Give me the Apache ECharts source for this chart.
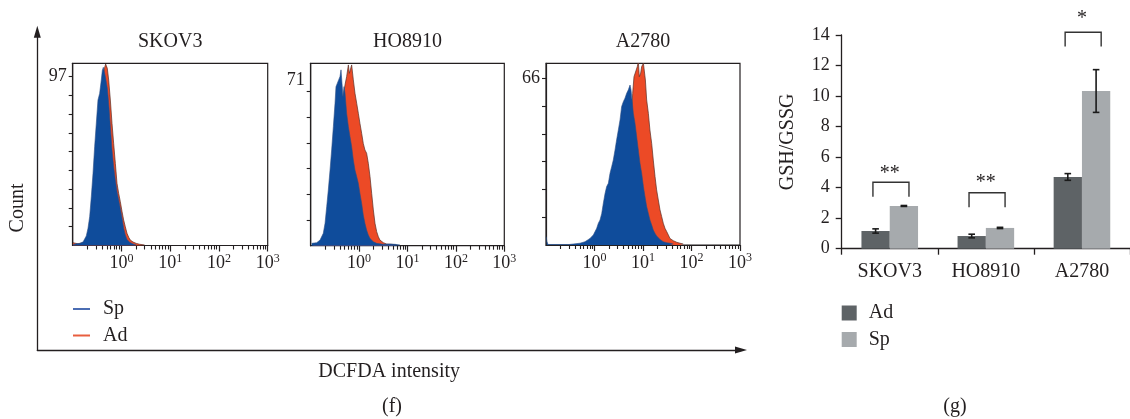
<!DOCTYPE html>
<html><head><meta charset="utf-8">
<script src="https://cdn.jsdelivr.net/npm/echarts@6/dist/echarts.min.js"></script>
<style>html,body{margin:0;padding:0;background:#fff}#c{width:1130px;height:419px}</style>
</head><body><div id="c"></div>
<script>
// ---------------- data ----------------
const cellLines = ['SKOV3', 'HO8910', 'A2780'];
const decadeTicks = [1, 10, 100, 1000];
const histYLabel = [[97], [71], [66]];
const histYTicks = [
  [10.8, 21.6, 32.3, 43.1, 53.9, 64.7, 75.4, 86.2, 97],
  [11, 22, 33, 44, 55, 66],
  [11, 22, 33, 44, 55, 66]
];
const histYMax = [104.7, 78.1, 71.9];

// [DCFDA intensity, count]
const skov3Sp = [[0.101,0.5],[0.119,1.0],[0.139,1.2],[0.163,2.0],[0.190,5.5],[0.206,9.9],[0.223,16.6],[0.241,28.1],[0.261,41.5],[0.282,56.8],[0.305,70.2],[0.330,83.6],[0.357,87.4],[0.386,95.1],[0.405,100.5],[0.425,102.4],[0.453,98.9],[0.474,96.1],[0.513,90.3],[0.547,81.7],[0.592,68.3],[0.640,54.9],[0.692,45.3],[0.750,37.6],[0.811,30.9],[0.877,26.1],[0.948,21.3],[1.03,15.6],[1.11,9.9],[1.20,6.0],[1.30,3.5],[1.47,1.8],[1.73,0.9],[2.02,0.3]];
const skov3Ad = [[0.101,1.6],[0.110,0.8],[0.128,1.0],[0.163,1.6],[0.200,4.1],[0.219,9.9],[0.237,16.6],[0.257,28.1],[0.278,41.5],[0.301,56.8],[0.325,70.2],[0.352,83.6],[0.380,88.4],[0.412,96.1],[0.438,100.9],[0.474,104.3],[0.498,103.7],[0.513,101.8],[0.547,95.1],[0.592,83.6],[0.640,70.2],[0.692,58.7],[0.750,47.2],[0.811,35.7],[0.877,30.0],[0.948,25.2],[1.03,19.4],[1.11,14.6],[1.20,10.8],[1.30,7.0],[1.41,4.7],[1.52,3.1],[1.73,2.0],[2.02,1.2],[2.37,0.7],[2.99,0.3]];
const ho8910Sp = [[0.105,1.0],[0.133,1.3],[0.156,2.4],[0.182,5.3],[0.198,9.6],[0.214,16.7],[0.231,23.8],[0.251,32.4],[0.271,41.0],[0.294,51.0],[0.318,61.0],[0.333,68.1],[0.355,68.9],[0.378,71.0],[0.403,72.4],[0.423,75.3],[0.443,69.6],[0.465,63.8],[0.488,68.1],[0.512,65.3],[0.553,56.7],[0.600,51.0],[0.649,46.7],[0.702,42.4],[0.760,36.7],[0.822,32.4],[0.891,29.6],[0.964,26.7],[1.04,22.4],[1.13,18.1],[1.22,13.1],[1.32,9.6],[1.43,6.7],[1.55,4.6],[1.68,3.1],[1.97,1.7],[2.31,1.0],[3.17,0.6],[4.35,0.7],[5.52,0.6],[7.00,0.3]];
const ho8910Ad = [[0.113,0.6],[0.156,1.3],[0.214,3.8],[0.251,8.1],[0.294,16.7],[0.344,29.6],[0.403,43.8],[0.436,53.8],[0.472,63.8],[0.512,68.9],[0.553,72.4],[0.600,77.4],[0.629,73.8],[0.670,73.1],[0.702,77.4],[0.760,71.0],[0.822,65.3],[0.891,61.0],[0.964,56.7],[1.04,52.4],[1.13,48.1],[1.22,43.8],[1.32,41.0],[1.43,39.6],[1.55,35.3],[1.68,29.6],[1.82,22.4],[1.97,15.3],[2.13,9.6],[2.31,6.0],[2.50,3.8],[2.70,2.4],[3.17,1.3],[3.71,0.7],[4.71,0.6],[5.97,0.3]];
const a2780Sp = [[0.101,3.3],[0.104,1.5],[0.110,0.2],[0.300,0.2],[0.502,0.7],[0.637,1.3],[0.807,2.6],[0.946,4.0],[1.11,6.6],[1.20,8.6],[1.30,9.9],[1.41,12.5],[1.52,16.5],[1.65,20.4],[1.78,23.1],[1.93,24.4],[2.09,28.4],[2.26,31.0],[2.44,33.6],[2.65,37.6],[2.86,41.6],[3.10,45.5],[3.36,49.5],[3.63,54.8],[3.93,56.7],[4.25,58.1],[4.60,60.0],[4.99,61.4],[5.40,63.3],[5.66,61.4],[6.03,56.1],[6.32,52.1],[6.84,48.2],[7.40,42.9],[8.01,37.6],[8.67,32.3],[9.39,28.4],[10.2,23.1],[11.0,19.1],[11.9,15.2],[12.9,12.5],[13.9,9.9],[15.1,7.9],[16.3,5.9],[17.7,4.6],[19.1,3.6],[22.4,2.2],[26.2,1.3],[30.8,0.9],[36.0,0.7],[42.2,0.4]];
const a2780Ad = [[0.807,0.4],[1.30,1.3],[1.78,4.0],[2.44,11.2],[3.36,20.4],[4.60,33.6],[5.40,44.2],[5.84,52.1],[6.12,60.0],[6.52,66.6],[7.06,67.3],[7.64,70.6],[8.01,72.6],[8.40,66.6],[8.95,68.0],[9.39,70.6],[10.2,71.9],[10.7,72.6],[11.2,65.3],[11.9,57.4],[12.9,52.1],[13.9,45.5],[15.1,40.2],[16.3,33.6],[17.7,27.1],[19.1,21.8],[20.7,17.8],[22.4,13.9],[24.3,11.2],[26.2,8.6],[28.4,6.6],[30.8,5.3],[33.3,4.0],[36.0,2.6],[42.2,1.7],[49.4,1.1],[57.9,0.7],[67.8,0.4]];

// GSH/GSSG bar chart
const gshAd = [1.16, 0.83, 4.70];
const gshAdErr = [0.14, 0.12, 0.22];
const gshSp = [2.80, 1.36, 10.33];
const gshSpErr = [0.03, 0.04, 1.40];
const gshYTicks = [0, 14, 2];
const sigLabels = ['**', '**', '*'];
const sigBracketTop = [4.35, 3.67, 14.18];
const sigBracketLeg = [3.41, 2.71, 13.24];
const sigStarY = [5.16, 4.55, 15.3];

// ---------------- style ----------------
const FONT = 'Liberation Serif';
const INK = '#231f20';
const BLUE = '#0f4c9b', RED = '#ec4a26';
const DARK = '#5e6366', LIGHT = '#a6aaad';
const BAR_W = 28.3;

const histData = [[skov3Sp, skov3Ad], [ho8910Sp, ho8910Ad], [a2780Sp, a2780Ad]];
const minorTicks = [];
[0.1, 1, 10, 100].forEach(d => { for (let m = 2; m <= 9; m++) minorTicks.push(+(d * m).toPrecision(3)); });

const histGrids = [
  {left: 72.7, top: 63.3, width: 195, height: 182.2},
  {left: 310.7, top: 63.3, width: 193.6, height: 182.4},
  {left: 546, top: 63.3, width: 194, height: 181.7}
];
const grid = histGrids.map(g => Object.assign({show: true, borderColor: INK, borderWidth: 1.2, backgroundColor: 'transparent'}, g));
grid.push({left: 37.3, top: 31.7, width: 703.7, height: 318.3});
grid.push({left: 841.7, top: 35, width: 291.9, height: 213.7});

const supFmt = v => '{b|10}{s|' + Math.round(Math.log10(v)) + '}';
const xAxis = [], yAxis = [], series = [];
for (let i = 0; i < 3; i++) {
  xAxis.push({
    type: 'log', logBase: 10, min: 0.1, max: 1000, gridIndex: i, position: 'bottom',
    axisLine: {show: true, lineStyle: {color: INK, width: 1.2}},
    axisTick: {show: true, customValues: decadeTicks, length: 6, lineStyle: {color: INK, width: 1.2}},
    axisLabel: {show: true, customValues: decadeTicks, margin: 7, formatter: supFmt,
      rich: {b: {fontSize: 18, fontFamily: FONT, color: INK, lineHeight: 20, verticalAlign: 'bottom'},
             s: {fontSize: 12, fontFamily: FONT, color: INK, lineHeight: 10, verticalAlign: 'top'}}},
    splitLine: {show: false}
  });
  yAxis.push({
    type: 'value', min: 0, max: histYMax[i], gridIndex: i, position: 'left',
    axisLine: {show: true, lineStyle: {color: INK, width: 1.2}},
    axisTick: {show: true, customValues: histYTicks[i], length: 4, lineStyle: {color: INK, width: 1.1}},
    axisLabel: {show: true, customValues: histYLabel[i], margin: 6, fontSize: 18, fontFamily: FONT, color: INK},
    splitLine: {show: false}
  });
}
for (let i = 0; i < 3; i++) {
  xAxis.push({
    type: 'log', logBase: 10, min: 0.1, max: 1000, gridIndex: i, position: 'bottom',
    axisLine: {show: false},
    axisTick: {show: true, customValues: minorTicks, length: 4, lineStyle: {color: INK, width: 1.1}},
    axisLabel: {show: false}, splitLine: {show: false}
  });
}
// big framing axes
xAxis.push({
  type: 'value', min: 0, max: 1, gridIndex: 3,
  axisLine: {show: true, onZero: false, symbol: ['none', 'triangle'], symbolSize: [7, 12], symbolOffset: [0, 0], lineStyle: {color: INK, width: 1.3}},
  axisTick: {show: false}, axisLabel: {show: false}, splitLine: {show: false},
  name: 'DCFDA intensity', nameLocation: 'middle', nameGap: 12,
  nameTextStyle: {fontSize: 20, fontFamily: FONT, color: INK}
});
yAxis.push({
  type: 'value', min: 0, max: 1, gridIndex: 3,
  axisLine: {show: true, onZero: false, symbol: ['none', 'triangle'], symbolSize: [7, 12], lineStyle: {color: INK, width: 1.3}},
  axisTick: {show: false}, axisLabel: {show: false}, splitLine: {show: false}
});
// bar chart axes
xAxis.push({
  type: 'category', data: cellLines, gridIndex: 4,
  axisLine: {show: true, lineStyle: {color: INK, width: 1.3}},
  axisTick: {show: true, length: 6, lineStyle: {color: INK, width: 1.3}},
  axisLabel: {fontSize: 20, fontFamily: FONT, color: INK, margin: 13}
});
yAxis.push({
  type: 'value', gridIndex: 4, min: gshYTicks[0], max: gshYTicks[1], interval: gshYTicks[2],
  axisLine: {show: true, lineStyle: {color: INK, width: 1.3}},
  axisTick: {show: true, length: 6, lineStyle: {color: INK, width: 1.3}},
  axisLabel: {fontSize: 18, fontFamily: FONT, color: INK, margin: 12},
  splitLine: {show: false},
  name: 'GSH/GSSG', nameLocation: 'middle', nameGap: 44,
  nameTextStyle: {fontSize: 20, fontFamily: FONT, color: INK}
});

for (let i = 0; i < 3; i++) {
  const [sp, ad] = histData[i];
  series.push({
    name: 'Ad', type: 'line', xAxisIndex: i, yAxisIndex: i, data: ad, symbol: 'none', smooth: false,
    lineStyle: {color: '#5a3028', width: 0.7}, areaStyle: {color: RED, opacity: 1}, itemStyle: {color: RED}, z: 2
  });
  series.push({
    name: 'Sp', type: 'line', xAxisIndex: i, yAxisIndex: i, data: sp, symbol: 'none', smooth: false,
    lineStyle: {color: '#2b4f86', width: 0.6}, areaStyle: {color: BLUE, opacity: 1}, itemStyle: {color: BLUE}, z: 3
  });
}
series.push({name: 'Ad', type: 'bar', xAxisIndex: 7, yAxisIndex: 4, data: gshAd, barWidth: BAR_W, barGap: '0%', itemStyle: {color: DARK}});
series.push({name: 'Sp', type: 'bar', xAxisIndex: 7, yAxisIndex: 4, data: gshSp, barWidth: BAR_W, barGap: '0%', itemStyle: {color: LIGHT}});

const errData = [];
cellLines.forEach((c, i) => { errData.push([i, gshAd[i], gshAdErr[i], -1]); errData.push([i, gshSp[i], gshSpErr[i], 1]); });
series.push({
  type: 'custom', xAxisIndex: 7, yAxisIndex: 4, data: errData, z: 5,
  renderItem: (params, api) => {
    const cat = api.value(0), m = api.value(1), e = api.value(2), side = api.value(3);
    const x = api.coord([cat, m])[0] + side * BAR_W / 2;
    const yt = api.coord([cat, m + e])[1], yb = api.coord([cat, m - e])[1];
    const st = {stroke: '#1a1a1a', lineWidth: 1.6};
    return {type: 'group', children: [
      {type: 'line', shape: {x1: x, y1: yt, x2: x, y2: yb}, style: st},
      {type: 'line', shape: {x1: x - 3.3, y1: yt, x2: x + 3.3, y2: yt}, style: st},
      {type: 'line', shape: {x1: x - 3.3, y1: yb, x2: x + 3.3, y2: yb}, style: st}
    ]};
  }
});
const sigData = cellLines.map((c, i) => [i, sigBracketTop[i], sigBracketLeg[i], sigStarY[i]]);
series.push({
  type: 'custom', xAxisIndex: 7, yAxisIndex: 4, data: sigData, clip: false, z: 5,
  renderItem: (params, api) => {
    const cat = api.value(0);
    const band = api.size([1, 0])[0];
    const xc = api.coord([cat, 0])[0];
    const yTop = api.coord([cat, api.value(1)])[1];
    const yLeg = api.coord([cat, api.value(2)])[1];
    const yStar = api.coord([cat, api.value(3)])[1];
    const xl = xc - 0.175 * band, xr = xc + 0.2 * band;
    return {type: 'group', children: [
      {type: 'polyline', shape: {points: [[xl, yLeg], [xl, yTop], [xr, yTop], [xr, yLeg]]}, style: {stroke: '#333', lineWidth: 1.4, fill: null}},
      {type: 'text', style: {text: sigLabels[params.dataIndex], x: xc, y: yStar + 4, align: 'center', verticalAlign: 'middle', font: '20px "Liberation Serif"', fill: INK}}
    ]};
  }
});

const txt = (text, x, y, size, rot) => ({type: 'text', x: x, y: y, rotation: rot || 0,
  style: {text: text, align: 'center', verticalAlign: 'middle', font: size + 'px "Liberation Serif"', fill: INK}});

const option = {
  animation: false,
  backgroundColor: '#fff',
  grid: grid,
  xAxis: xAxis,
  yAxis: yAxis,
  series: series,
  legend: [
    {data: [{name: 'Sp', itemStyle: {color: '#4b6db3'}}, {name: 'Ad', itemStyle: {color: '#e85e3f'}}],
     left: 73, top: 299, padding: 0, orient: 'vertical', icon: 'rect', itemWidth: 17, itemHeight: 2, itemGap: 6.5, selectedMode: false,
     textStyle: {fontSize: 20, fontFamily: FONT, color: INK, padding: [0, 0, 0, 8]}},
    {data: [{name: 'Ad', itemStyle: {color: DARK}}, {name: 'Sp', itemStyle: {color: LIGHT}}],
     left: 841.7, top: 303, padding: 0, orient: 'vertical', icon: 'rect', itemWidth: 15, itemHeight: 15, itemGap: 6.5, selectedMode: false,
     textStyle: {fontSize: 20, fontFamily: FONT, color: INK, padding: [0, 0, 0, 7]}}
  ],
  graphic: [
    txt(cellLines[0], 170.2, 42, 20),
    txt(cellLines[1], 407.5, 42, 20),
    txt(cellLines[2], 643, 42, 20),
    txt('Count', 18, 208, 20, Math.PI / 2),
    txt('(f)', 392, 407, 20),
    txt('(g)', 955, 407, 20)
  ]
};
const chart = echarts.init(document.getElementById('c'), null, {renderer: 'canvas'});
chart.setOption(option);
</script></body></html>
